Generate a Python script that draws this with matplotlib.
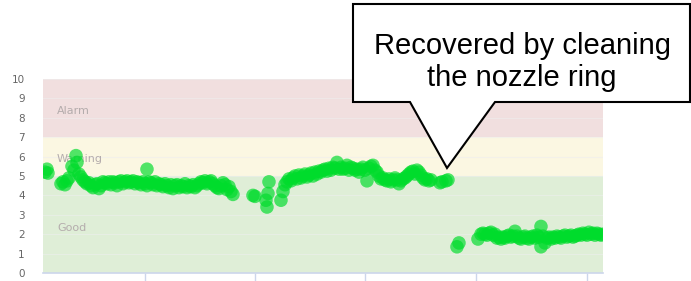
"""Nozzle ring condition - scatter with status bands and callout"""
import matplotlib
matplotlib.use('Agg')
import matplotlib.pyplot as plt
from matplotlib.patches import Polygon

# x positions are sample positions along the axis (0..560)
seg_a_x = [2, 4, 5, 18, 20, 22, 24, 26, 29, 31, 33, 34, 36, 38, 40, 42, 44, 46, 48, 50,
           52, 54, 56, 58, 60, 62, 64, 66, 68, 70, 72, 74, 76, 78, 80, 82, 84, 86, 88, 90,
           92, 94, 96, 98, 100, 102, 104, 104, 106, 108, 110, 112, 114, 116, 118, 120, 122,
           124, 126, 128, 130, 132, 134, 136, 138, 140, 142, 144, 146, 148, 150, 152, 154,
           156, 158, 160, 162, 164, 166, 168, 170, 172, 174, 176, 178, 180, 182, 184, 186,
           188, 190]
seg_a_y = [5.2, 5.35, 5.15, 4.6, 4.7, 4.55, 4.75, 4.9, 5.5, 5.3, 6.05, 5.7, 5.1, 4.95, 4.8,
           4.7, 4.6, 4.65, 4.5, 4.4, 4.55, 4.6, 4.35, 4.5, 4.7, 4.65, 4.6, 4.7, 4.55, 4.7,
           4.65, 4.5, 4.7, 4.75, 4.6, 4.7, 4.75, 4.65, 4.7, 4.75, 4.6, 4.7, 4.65, 4.55, 4.7,
           4.6, 5.35, 4.5, 4.7, 4.65, 4.55, 4.7, 4.5, 4.6, 4.55, 4.45, 4.6, 4.5, 4.4, 4.55,
           4.35, 4.5, 4.55, 4.4, 4.5, 4.45, 4.6, 4.4, 4.5, 4.45, 4.55, 4.4, 4.5, 4.6, 4.7,
           4.65, 4.75, 4.6, 4.7, 4.75, 4.6, 4.5, 4.4, 4.35, 4.5, 4.65, 4.55, 4.3, 4.45, 4.2,
           4.05]

seg_b_x = [210, 212, 223, 224, 225, 226, 238, 240, 242, 244, 246, 248, 250, 252, 254, 256,
           258, 260, 262, 264, 266, 268, 270, 272, 274, 276, 278, 280, 282, 284, 286, 288,
           290, 292, 294, 296, 298, 300, 302, 304, 306, 308, 310, 312, 314, 316, 318, 320,
           322, 324, 326, 328, 330, 332, 334, 336, 338, 340, 342, 344, 346, 348, 350, 352,
           354, 356, 358, 360, 362, 364, 366, 368, 370, 372, 374, 376, 378, 380, 382, 384,
           386, 388, 397, 399, 403, 405]
seg_b_y = [4.0, 3.95, 3.75, 3.4, 4.1, 4.7, 3.75, 4.2, 4.55, 4.7, 4.85, 4.75, 4.9, 5.0, 4.85,
           5.05, 4.9, 5.0, 5.1, 4.95, 5.05, 5.15, 5.0, 5.2, 5.1, 5.25, 5.2, 5.3, 5.35, 5.25,
           5.4, 5.3, 5.45, 5.4, 5.7, 5.35, 5.45, 5.35, 5.4, 5.55, 5.3, 5.45, 5.4, 5.3, 5.35,
           5.2, 5.35, 5.45, 5.3, 4.75, 5.4, 5.5, 5.55, 5.3, 5.2, 5.0, 4.85, 4.9, 4.8, 4.75,
           4.85, 4.7, 4.8, 4.9, 4.8, 4.6, 4.75, 4.85, 4.9, 5.0, 5.1, 5.2, 5.25, 5.1, 5.3,
           5.2, 5.05, 4.9, 4.8, 4.85, 4.75, 4.8, 4.65, 4.7, 4.75, 4.8]

seg_c_x = [414, 416, 435, 438, 440, 442, 444, 446, 448, 450, 452, 454, 456, 458, 460, 462,
           464, 466, 468, 470, 472, 474, 476, 478, 480, 482, 484, 486, 488, 490, 492, 494,
           496, 498, 498, 500, 502, 504, 506, 508, 510, 512, 514, 516, 518, 520, 522, 524,
           526, 528, 530, 532, 534, 536, 538, 540, 542, 544, 546, 548, 550, 552, 554, 556,
           558, 560]
seg_c_y = [1.35, 1.55, 1.75, 2.0, 2.05, 2.0, 1.95, 2.05, 2.1, 1.95, 2.0, 1.8, 1.85, 1.75,
           1.85, 1.8, 1.9, 1.95, 1.85, 1.9, 2.15, 1.9, 1.8, 1.75, 1.85, 1.9, 1.8, 1.75, 1.85,
           1.9, 1.8, 1.95, 1.85, 2.4, 1.35, 1.9, 1.55, 1.8, 1.85, 1.75, 1.85, 1.8, 1.9, 1.85,
           1.8, 1.9, 1.95, 1.85, 1.9, 1.95, 1.85, 1.9, 1.95, 2.0, 1.95, 2.05, 2.0, 1.95, 2.1,
           2.0, 2.05, 1.95, 2.05, 2.0, 1.95, 2.0]

x_ticks = [102, 212, 322, 433, 544]
y_ticks = list(range(0, 11))

# status bands
band_names = ['Good', 'Warning', 'Alarm']
band_low = [0, 5, 7]
band_high = [5, 7, 10]
band_colors = ['#dfeed7', '#fbf7e2', '#f1dfdf']
band_label_y = [2.3, 5.9, 8.35]

callout_text = "Recovered by cleaning\nthe nozzle ring"

fig = plt.figure(figsize=(6.91, 2.81), dpi=100)
ax = fig.add_axes([0.0622, 0.0285, 0.8104, 0.6904])

for lo, hi, col, name, ly in zip(band_low, band_high, band_colors, band_names, band_label_y):
    ax.axhspan(lo, hi, color=col, zorder=0, lw=0)
    ax.text(14, ly, name, color='#b4acac', fontsize=8, va='center', ha='left',
            family='DejaVu Sans', zorder=1)

for yv in y_ticks[1:]:
    ax.axhline(yv, color='#eeeeee', lw=0.8, alpha=0.6, zorder=0.5)

xs = seg_a_x + seg_b_x + seg_c_x
ys = seg_a_y + seg_b_y + seg_c_y
ax.scatter(xs, ys, s=95, color='#00dc2c', alpha=0.68, edgecolors='none', zorder=3)

ax.set_xlim(0, 560)
ax.set_ylim(0, 10)
ax.set_xticks(x_ticks)
ax.set_xticklabels([])
ax.set_yticks(y_ticks)
ax.set_yticklabels([str(v) for v in y_ticks], color='#666666', fontsize=7.5)
ax.tick_params(axis='y', length=0, pad=13)
ax.tick_params(axis='x', length=7, width=1, color='#ccd6eb', direction='out')
for side in ['top', 'right', 'left']:
    ax.spines[side].set_visible(False)
ax.spines['bottom'].set_color('#ccd6eb')
ax.spines['bottom'].set_linewidth(1.2)

# speech-bubble callout in figure pixels (origin top-left)
W, H = 691, 281
bubble_px = [(353, 4), (690, 4), (690, 102), (495, 102), (447, 168), (410, 102), (353, 102)]
bubble = Polygon([(x / W, 1 - y / H) for x, y in bubble_px], closed=True,
                 transform=fig.transFigure, facecolor='white', edgecolor='black',
                 linewidth=1.5, zorder=10)
fig.patches.append(bubble)
fig.text(522 / W, 1 - 62 / H, callout_text, ha='center', va='center', fontsize=21,
         family='Liberation Sans', linespacing=1.2, zorder=11)

fig.savefig('out.png', dpi=100)
plt.close(fig)
